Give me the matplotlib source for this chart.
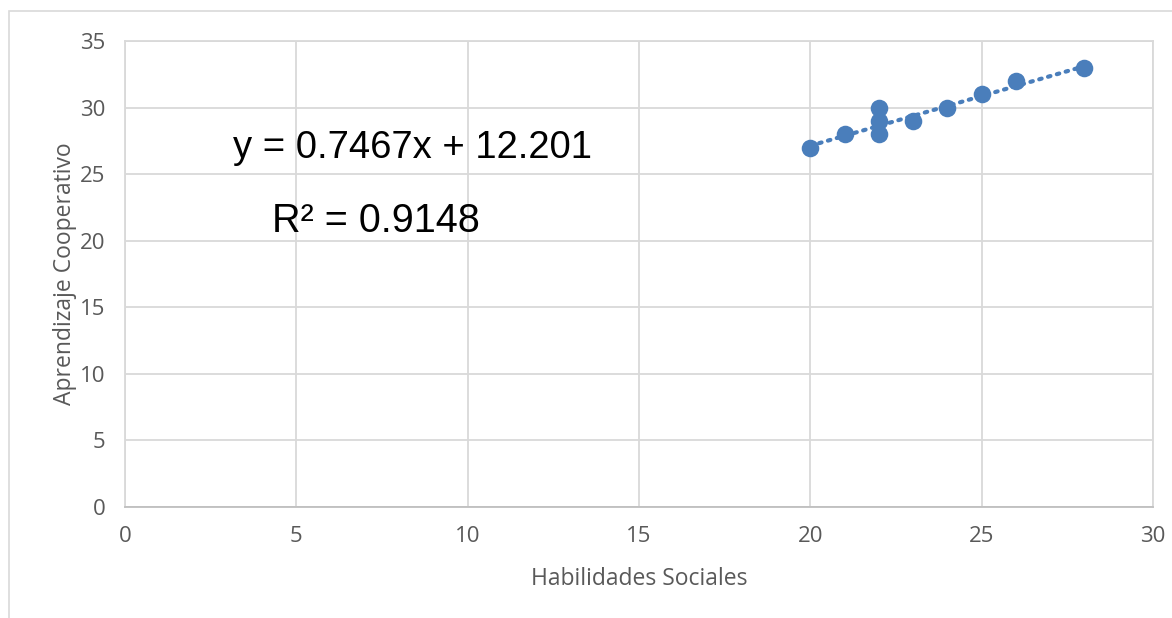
import matplotlib.pyplot as plt
from matplotlib.patches import Rectangle
import numpy as np

habilidades = [20, 21, 22, 22, 22, 23, 24, 25, 26, 28]
aprendizaje = [27, 28, 30, 29, 28, 29, 30, 31, 32, 33]
slope, intercept = 0.7467, 12.201
r2 = 0.9148

blue = '#4a7ebb'
grid = '#d9d9d9'
tick_col = '#595959'

fig = plt.figure(figsize=(11.72, 6.18), dpi=100)
fig.patches.append(Rectangle((9 / 1172, -0.1), 1.2, 1 - 11 / 618 + 0.1,
                             transform=fig.transFigure, fill=False,
                             edgecolor='#d9d9d9', linewidth=1.2))
ax = fig.add_axes([125 / 1172, 1 - 507 / 618, 1028 / 1172, 466 / 618])

ax.set_xlim(0, 30)
ax.set_ylim(0, 35)
ax.set_xticks(range(0, 31, 5))
ax.set_yticks(range(0, 36, 5))
ax.grid(True, color=grid, linewidth=1.3)
ax.set_axisbelow(True)
for s in ax.spines.values():
    s.set_color(grid)
    s.set_linewidth(1.3)
ax.spines['bottom'].set_color('#bfbfbf')
ax.tick_params(length=0, colors=tick_col, labelsize=16, pad=14)
for lab in ax.get_xticklabels() + ax.get_yticklabels():
    lab.set_family('Open Sans')

# linea de tendencia
xt = np.array([min(habilidades), max(habilidades)])
ax.plot(xt, slope * xt + intercept, linestyle=(0, (0.6, 1.6)), color=blue,
        linewidth=3, dash_capstyle='round', zorder=2)
ax.scatter(habilidades, aprendizaje, s=160, color=blue, zorder=3, linewidths=0)

ax.set_xlabel('Habilidades Sociales', fontsize=16.5, color=tick_col,
              family='Open Sans', labelpad=14)
ax.set_ylabel('Aprendizaje Cooperativo', fontsize=16.5, color=tick_col,
              family='Open Sans', labelpad=2)

ax.text(3.15, 27.0, f'y = {slope}x + {intercept}', fontsize=27.5,
        family='Liberation Sans', va='center', ha='left')
ax.text(4.3, 21.5, f'R² = {r2}', fontsize=28.5,
        family='Liberation Sans', va='center', ha='left')

fig.savefig('out.png', dpi=100)
